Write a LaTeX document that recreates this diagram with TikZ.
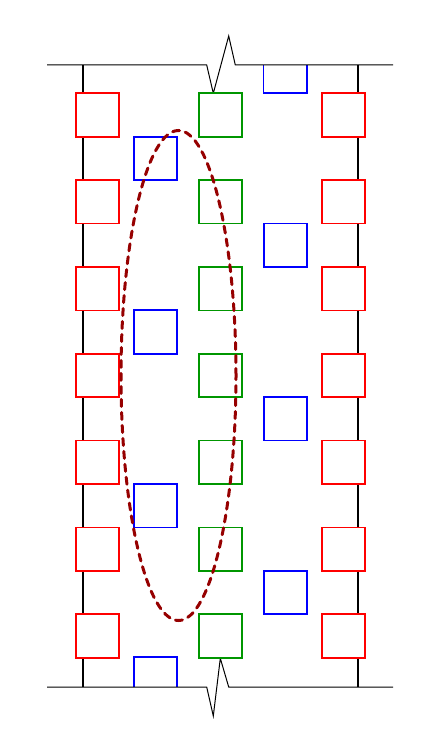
\documentclass[tikz,border=0pt]{standalone}
\definecolor{sqgreen}{RGB}{0,150,0}
\definecolor{ovalred}{RGB}{150,0,0}
\begin{document}
\begin{tikzpicture}[x=1pt,y=-1pt,
  sq/.style={draw,rectangle,minimum size=43.5pt,inner sep=0pt,line width=1.7pt,fill=white},
  redsq/.style={sq,draw=red},
  greensq/.style={sq,draw=sqgreen},
  bluesq/.style={sq,draw=blue},
  bluepart/.style={draw=blue,line width=1.7pt},
  post/.style={line width=1.6pt,black},
  wall/.style={line width=1pt,black},
  oval/.style={draw=ovalred,line width=3pt,dash pattern=on 7pt off 6pt,line cap=round}]
\useasboundingbox (0,0) rectangle (428,752);
% vertical posts
\coordinate (tl) at (83,65); \coordinate (bl) at (83,687);
\coordinate (tr) at (358,65); \coordinate (br) at (358,687);
\draw[post] (tl) -- (bl);
\draw[post] (tr) -- (br);
% partial blue squares at the walls
\draw[bluepart] (263.5,65) -- (263.5,93.3) -- (307.3,93.3) -- (307.3,65);
\draw[bluepart] (134,687) -- (134,657.3) -- (177,657.3) -- (177,687);
% walls with break marks
\draw[wall] (47,65) -- (206.7,65) -- (213.3,93.3) -- (228.7,36) -- (235.3,65) -- (393,65);
\draw[wall] (47,687) -- (206.7,687) -- (213.3,716) -- (220.3,658.3) -- (228.7,687) -- (393,687);
% squares
\foreach \i in {1,...,7} {
  \node[redsq] (l\i) at (97.5,{115+86.83*(\i-1)}) {};
  \node[greensq] (g\i) at (220.5,{115+86.83*(\i-1)}) {};
  \node[redsq] (r\i) at (343.5,{115+86.83*(\i-1)}) {};
}
\foreach \i in {1,2,3} {
  \node[bluesq] (bl\i) at (155.5,{158.4+173.67*(\i-1)}) {};
  \node[bluesq] (br\i) at (285.4,{245.2+173.67*(\i-1)}) {};
}
% dashed oval
\draw[oval] (178.5,375.5) ellipse [x radius=57.5pt, y radius=245pt];
\end{tikzpicture}
\end{document}
